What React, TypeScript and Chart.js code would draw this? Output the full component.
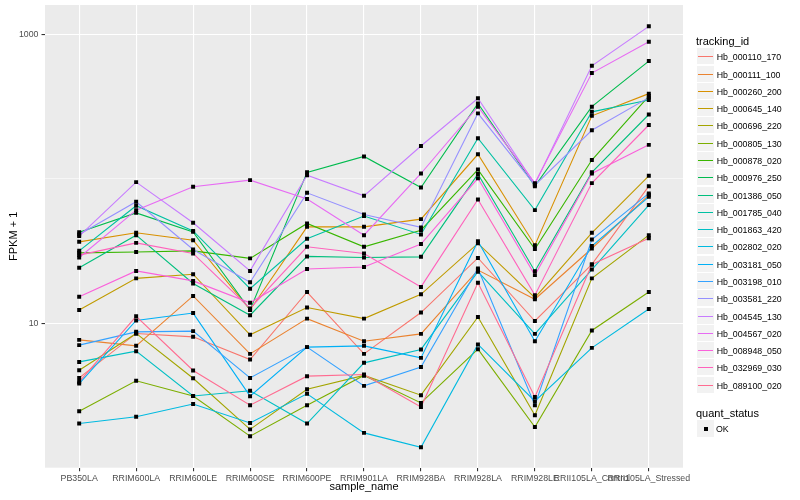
import React, { useEffect, useRef } from "react";
import { Chart, registerables } from "chart.js";

Chart.register(...registerables);

// ---------- data ----------
const categories = [
  "PB350LA",
  "RRIM600LA",
  "RRIM600LE",
  "RRIM600SE",
  "RRIM600PE",
  "RRIM901LA",
  "RRIM928BA",
  "RRIM928LA",
  "RRIM928LE",
  "RRII105LA_Control",
  "RRII105LA_Stressed",
];

const yTickValues = [10, 100, 1000];
const yTickLabels = ["10", "", "1000"];

const seriesNames = [
  "Hb_000110_170",
  "Hb_000111_100",
  "Hb_000260_200",
  "Hb_000645_140",
  "Hb_000696_220",
  "Hb_000805_130",
  "Hb_000878_020",
  "Hb_000976_250",
  "Hb_001386_050",
  "Hb_001785_040",
  "Hb_001863_420",
  "Hb_002802_020",
  "Hb_003181_050",
  "Hb_003198_010",
  "Hb_003581_220",
  "Hb_004545_130",
  "Hb_004567_020",
  "Hb_008948_050",
  "Hb_032969_030",
  "Hb_089100_020",
];

const seriesColors = [
  "#F8766D",
  "#EA8331",
  "#D89000",
  "#C09B00",
  "#A3A500",
  "#7CAE00",
  "#39B600",
  "#00BB4E",
  "#00BF7D",
  "#00C1A3",
  "#00BFC4",
  "#00BAE0",
  "#00B0F6",
  "#35A2FF",
  "#9590FF",
  "#C77CFF",
  "#E76BF3",
  "#FA62DB",
  "#FF62BC",
  "#FF6C91",
];

const hb000110_170 = [4.2, 8.53, 8.08, 5.63, 16.5, 6.16, 11.9, 28.4, 10.4, 25.6, 89.1];
const hb000111_100 = [7.7, 7.0, 15.5, 6.16, 10.8, 7.54, 8.47, 23.4, 14.7, 33.0, 77.3];
const hb000260_200 = [36.7, 42.4, 37.7, 12.4, 46.6, 46.6, 52.7, 148, 34.8, 273, 389];
const hb000645_140 = [12.4, 20.5, 21.9, 8.34, 12.9, 10.8, 15.9, 35.8, 15.1, 42.4, 105];
const hb000696_220 = [4.75, 8.53, 4.18, 1.85, 3.51, 4.37, 3.19, 11.1, 2.32, 20.5, 40.8];
const hb000805_130 = [2.47, 4.01, 3.15, 1.66, 2.72, 4.37, 2.82, 6.64, 1.92, 8.94, 16.5];
const hb000878_020 = [30.8, 31.2, 31.8, 28.2, 49.2, 33.9, 44.2, 116, 32.7, 135, 374];
const hb000976_250 = [42.7, 58.2, 43.0, 12.4, 111, 143, 87.1, 333, 89.1, 316, 653];
const hb001386_050 = [24.3, 40.8, 18.9, 11.4, 29.1, 28.6, 28.9, 108, 23.0, 111, 279];
const hb001785_040 = [31.8, 65.2, 43.7, 17.4, 38.5, 55.3, 41.3, 191, 60.8, 291, 351];
const hb001863_420 = [5.42, 6.43, 3.15, 3.42, 2.03, 5.34, 6.61, 22.8, 8.47, 23.6, 65.9];
const hb002802_020 = [2.03, 2.26, 2.77, 2.05, 3.26, 1.75, 1.39, 7.16, 2.9, 6.78, 12.6];
const hb003181_050 = [3.84, 10.5, 11.8, 3.14, 6.86, 7.0, 5.78, 37.1, 7.54, 34.3, 75.2];
const hb003198_010 = [7.08, 8.75, 8.85, 4.2, 6.86, 3.7, 4.99, 24.0, 2.72, 38.1, 79.4];
const hb003581_220 = [41.3, 69.5, 32.5, 19.3, 80.1, 56.8, 46.2, 284, 90.6, 217, 365];
const hb004545_130 = [40.2, 95.0, 49.7, 23.1, 106, 76.4, 169, 361, 92.0, 606, 1136];
const hb004567_020 = [28.6, 60.8, 88.2, 98.1, 72.5, 40.8, 109, 316, 93.5, 540, 889];
const hb008948_050 = [15.3, 23.1, 19.7, 13.9, 23.8, 24.6, 35.4, 101, 21.6, 109, 172];
const hb032969_030 = [29.7, 36.1, 30.5, 12.7, 33.9, 30.5, 17.9, 72.1, 15.7, 93.5, 236];
const hb089100_020 = [3.94, 11.2, 4.73, 2.72, 4.32, 4.44, 2.64, 19.1, 3.1, 25.6, 38.8];

const seriesValues = [
  hb000110_170,
  hb000111_100,
  hb000260_200,
  hb000645_140,
  hb000696_220,
  hb000805_130,
  hb000878_020,
  hb000976_250,
  hb001386_050,
  hb001785_040,
  hb001863_420,
  hb002802_020,
  hb003181_050,
  hb003198_010,
  hb003581_220,
  hb004545_130,
  hb004567_020,
  hb008948_050,
  hb032969_030,
  hb089100_020,
];

const FONT = "'Liberation Sans', Arial, Helvetica, sans-serif";

const panelBg = {
  id: "panelBg",
  beforeDraw(chart: any) {
    const { ctx, chartArea } = chart;
    if (!chartArea) return;
    ctx.save();
    ctx.fillStyle = "#EBEBEB";
    ctx.fillRect(
      chartArea.left,
      chartArea.top,
      chartArea.right - chartArea.left,
      chartArea.bottom - chartArea.top
    );
    ctx.restore();
  },
};

export default function App() {
  const canvasRef = useRef<HTMLCanvasElement | null>(null);

  useEffect(() => {
    const canvas = canvasRef.current;
    if (!canvas) return;

    const n = seriesValues.length;
    const lineSets = seriesValues.map((vals, i) => ({
      label: seriesNames[i],
      data: vals.map((v, j) => ({ x: j, y: v })),
      borderColor: seriesColors[i],
      backgroundColor: seriesColors[i],
      borderWidth: 1.1,
      pointRadius: 0,
      pointHoverRadius: 0,
      tension: 0,
      fill: false,
      order: n - i + 1,
    }));

    const pointSet = {
      label: "OK",
      data: seriesValues.flatMap((vals) => vals.map((v, j) => ({ x: j, y: v }))),
      showLine: false,
      borderColor: "#000000",
      backgroundColor: "#000000",
      borderWidth: 0,
      pointStyle: "rect",
      pointRadius: 2.8,
      pointHoverRadius: 2.8,
      order: 0,
    };

    const chart = new Chart(canvas, {
      type: "line",
      data: { datasets: [...lineSets, pointSet] as any },
      plugins: [panelBg],
      options: {
        animation: false,
        responsive: false,
        maintainAspectRatio: false,
        events: [],
        layout: { padding: { top: 5, right: 117, left: 0, bottom: 0 } },
        plugins: {
          legend: { display: false },
          tooltip: { enabled: false },
          title: { display: false },
        },
        scales: {
          x: {
            type: "linear",
            min: -0.6,
            max: 10.6,
            afterBuildTicks: (scale: any) => {
              scale.ticks = categories.map((_, i) => ({ value: i }));
            },
            afterFit: (scale: any) => {
              scale.height = 32.3;
              scale.paddingLeft = 0;
              scale.paddingRight = 0;
            },
            border: { display: false },
            grid: {
              color: "#FFFFFF",
              lineWidth: 1.1,
              tickColor: "#333333",
              tickLength: 3.5,
              tickWidth: 1.1,
            },
            ticks: {
              autoSkip: false,
              maxRotation: 0,
              minRotation: 0,
              padding: 2,
              color: "#4D4D4D",
              font: { family: FONT, size: 8.8 },
              callback: (v: any) => categories[v as number] ?? "",
            },
            title: {
              display: true,
              text: "sample_name",
              color: "#000000",
              font: { family: FONT, size: 11 },
              padding: { top: 0, bottom: 6.4 },
            },
          },
          y: {
            type: "logarithmic",
            min: 1.005,
            max: 1596,
            afterBuildTicks: (scale: any) => {
              scale.ticks = yTickValues.map((v) => ({ value: v }));
            },
            afterFit: (scale: any) => {
              scale.width = 45;
              scale.paddingTop = 0;
              scale.paddingBottom = 0;
            },
            border: { display: false },
            grid: {
              color: "#FFFFFF",
              lineWidth: (ctx: any) => (ctx.tick && ctx.tick.value === 100 ? 0.55 : 1.1),
              tickColor: (ctx: any) =>
                ctx.tick && ctx.tick.value === 100 ? "rgba(0,0,0,0)" : "#333333",
              tickLength: 3.5,
              tickWidth: 1.1,
            },
            ticks: {
              padding: 3,
              color: "#4D4D4D",
              font: { family: FONT, size: 8.8 },
              callback: (v: any) => {
                const k = yTickValues.indexOf(v as number);
                return k >= 0 ? yTickLabels[k] : "";
              },
            },
            title: {
              display: true,
              text: "FPKM + 1",
              color: "#000000",
              font: { family: FONT, size: 11 },
              padding: { top: 7.4, bottom: 0 },
            },
          },
        },
      } as any,
    });

    return () => {
      chart.destroy();
    };
  }, []);

  const keyTop = 48.3;
  const keyStep = 17.28;
  const labelStyle: React.CSSProperties = {
    position: "absolute",
    fontFamily: FONT,
    fontSize: 8.8,
    color: "#000000",
    height: 16,
    lineHeight: "16px",
    whiteSpace: "nowrap",
  };

  return (
    <div
      style={{
        position: "absolute",
        left: 0,
        top: 0,
        width: 800,
        height: 500,
        background: "#FFFFFF",
        overflow: "hidden",
      }}
    >
      <canvas
        ref={canvasRef}
        width={800}
        height={500}
        style={{ position: "absolute", left: 0, top: 0, width: 800, height: 500 }}
      />
      <div
        style={{
          position: "absolute",
          left: 696,
          top: 40.7 - 9,
          height: 18,
          lineHeight: "18px",
          fontFamily: FONT,
          fontSize: 11,
          color: "#000000",
          whiteSpace: "nowrap",
        }}
      >
        tracking_id
      </div>
      {seriesNames.map((name, i) => {
        const top = Math.round(keyTop + i * keyStep);
        return (
          <React.Fragment key={name}>
            <div
              style={{
                position: "absolute",
                left: 697,
                top: top,
                width: 17,
                height: 16,
                background: "#F2F2F2",
              }}
            >
              <div
                style={{
                  position: "absolute",
                  left: 1,
                  width: 15,
                  top: 7.5,
                  height: 1.5,
                  background: seriesColors[i],
                }}
              />
            </div>
            <div style={{ ...labelStyle, left: 716.7, top: top + 8.5 - 8 }}>{name}</div>
          </React.Fragment>
        );
      })}
      <div
        style={{
          position: "absolute",
          left: 696,
          top: 412.7 - 9,
          height: 18,
          lineHeight: "18px",
          fontFamily: FONT,
          fontSize: 11,
          color: "#000000",
          whiteSpace: "nowrap",
        }}
      >
        quant_status
      </div>
      <div
        style={{
          position: "absolute",
          left: 697,
          top: 420,
          width: 17,
          height: 17,
          background: "#F2F2F2",
        }}
      >
        <div
          style={{
            position: "absolute",
            left: 6.5,
            top: 6.5,
            width: 4,
            height: 4,
            background: "#000000",
          }}
        />
      </div>
      <div style={{ ...labelStyle, left: 716, top: 428.7 - 8 }}>OK</div>
    </div>
  );
}
